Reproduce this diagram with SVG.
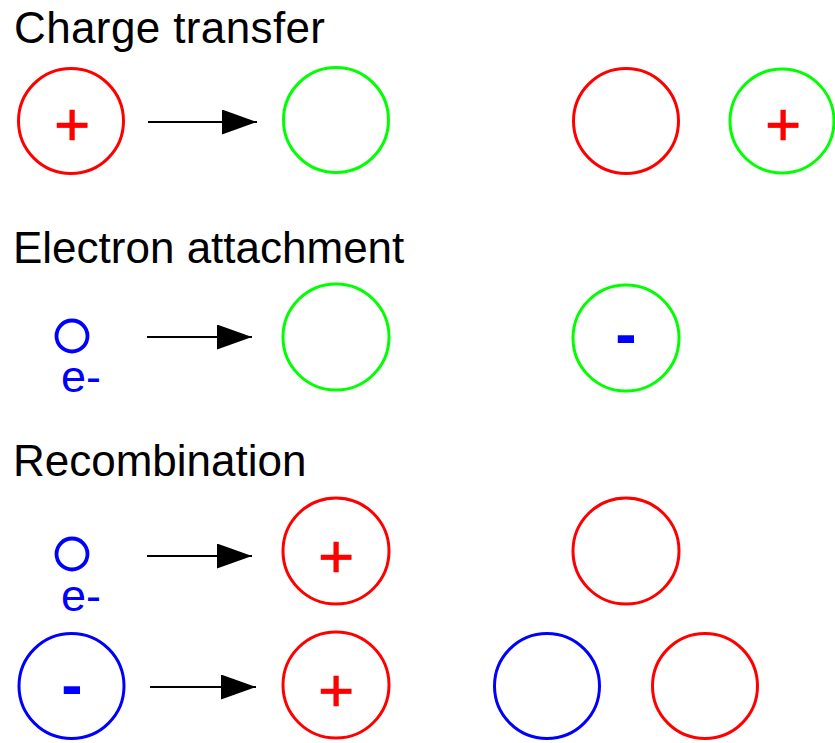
<svg xmlns="http://www.w3.org/2000/svg" width="835" height="743" viewBox="0 0 835 743">
  <defs>
    <style>
      .title { font-family: "Liberation Sans", Arial, sans-serif; font-size: 44px; fill: #000; }
      .ring { fill: none; stroke-width: 3; }
      .small { stroke-width: 3.8; }
      .red { stroke: #ff0000; }
      .green { stroke: #00ff00; }
      .blue { stroke: #0000ff; }
      .plus { font-family: "Liberation Sans", Arial, sans-serif; font-size: 62px; fill: #ff0000; stroke: #ff0000; stroke-width: 0.6; text-anchor: middle; }
      .minus { font-family: "Liberation Sans", Arial, sans-serif; font-size: 64px; font-weight: bold; fill: #0000ff; text-anchor: middle; }
      .elabel { font-family: "Liberation Sans", Arial, sans-serif; font-size: 45px; fill: #0000ff; }
      .arrow { stroke: #000; stroke-width: 2; fill: none; }
    </style>
    <marker id="head" markerUnits="userSpaceOnUse" markerWidth="36" markerHeight="26" refX="35" refY="12.5" orient="auto">
      <path d="M0,0 L35,12.5 L0,25 Z" fill="#000"/>
    </marker>
  </defs>

  <!-- section headings -->
  <text class="title" x="14" y="43" textLength="311">Charge transfer</text>
  <text class="title" x="13" y="263">Electron attachment</text>
  <text class="title" x="13" y="476">Recombination</text>

  <!-- charge transfer -->
  <g id="ct-ion">
    <circle class="ring red" cx="71" cy="121" r="52.5"/>
    <text class="plus" x="72" y="145">+</text>
  </g>
  <g id="ct-neutral">
    <circle class="ring green" cx="336" cy="120" r="52.5"/>
  </g>
  <g id="ct-neutral-out">
    <circle class="ring red" cx="626" cy="121" r="52.5"/>
  </g>
  <g id="ct-ion-out">
    <circle class="ring green" cx="782" cy="121" r="52"/>
    <text class="plus" x="783" y="145">+</text>
  </g>

  <!-- electron attachment -->
  <g id="ea-electron">
    <circle class="ring small blue" cx="72" cy="336" r="15.5"/>
    <text class="elabel" x="61" y="392">e-</text>
  </g>
  <g id="ea-neutral">
    <circle class="ring green" cx="336" cy="337" r="53"/>
  </g>
  <g id="ea-anion">
    <circle class="ring green" cx="626" cy="338" r="53"/>
    <text class="minus" x="626" y="356">-</text>
  </g>

  <!-- recombination: electron + positive ion -->
  <g id="re-electron">
    <circle class="ring small blue" cx="72" cy="554" r="15.5"/>
    <text class="elabel" x="61" y="611">e-</text>
  </g>
  <g id="re-cation">
    <circle class="ring red" cx="336" cy="551" r="53"/>
    <text class="plus" x="336" y="577">+</text>
  </g>
  <g id="re-neutral">
    <circle class="ring red" cx="626" cy="551" r="53"/>
  </g>

  <!-- recombination: negative ion + positive ion -->
  <g id="ii-anion">
    <circle class="ring blue" cx="71.5" cy="686" r="52.5"/>
    <text class="minus" x="72" y="707">-</text>
  </g>
  <g id="ii-cation">
    <circle class="ring red" cx="336" cy="685" r="53"/>
    <text class="plus" x="336" y="711">+</text>
  </g>
  <g id="ii-neutral-a">
    <circle class="ring blue" cx="547" cy="686" r="52.5"/>
  </g>
  <g id="ii-neutral-b">
    <circle class="ring red" cx="705" cy="686" r="52.5"/>
  </g>

  <!-- reaction arrows -->
  <g id="connectors">
    <line class="arrow" x1="148" y1="122" x2="257" y2="122" marker-end="url(#head)"/>
    <line class="arrow" x1="147" y1="337" x2="252" y2="337" marker-end="url(#head)"/>
    <line class="arrow" x1="147" y1="556" x2="252" y2="556" marker-end="url(#head)"/>
    <line class="arrow" x1="150" y1="687" x2="256" y2="687" marker-end="url(#head)"/>
  </g>
</svg>
